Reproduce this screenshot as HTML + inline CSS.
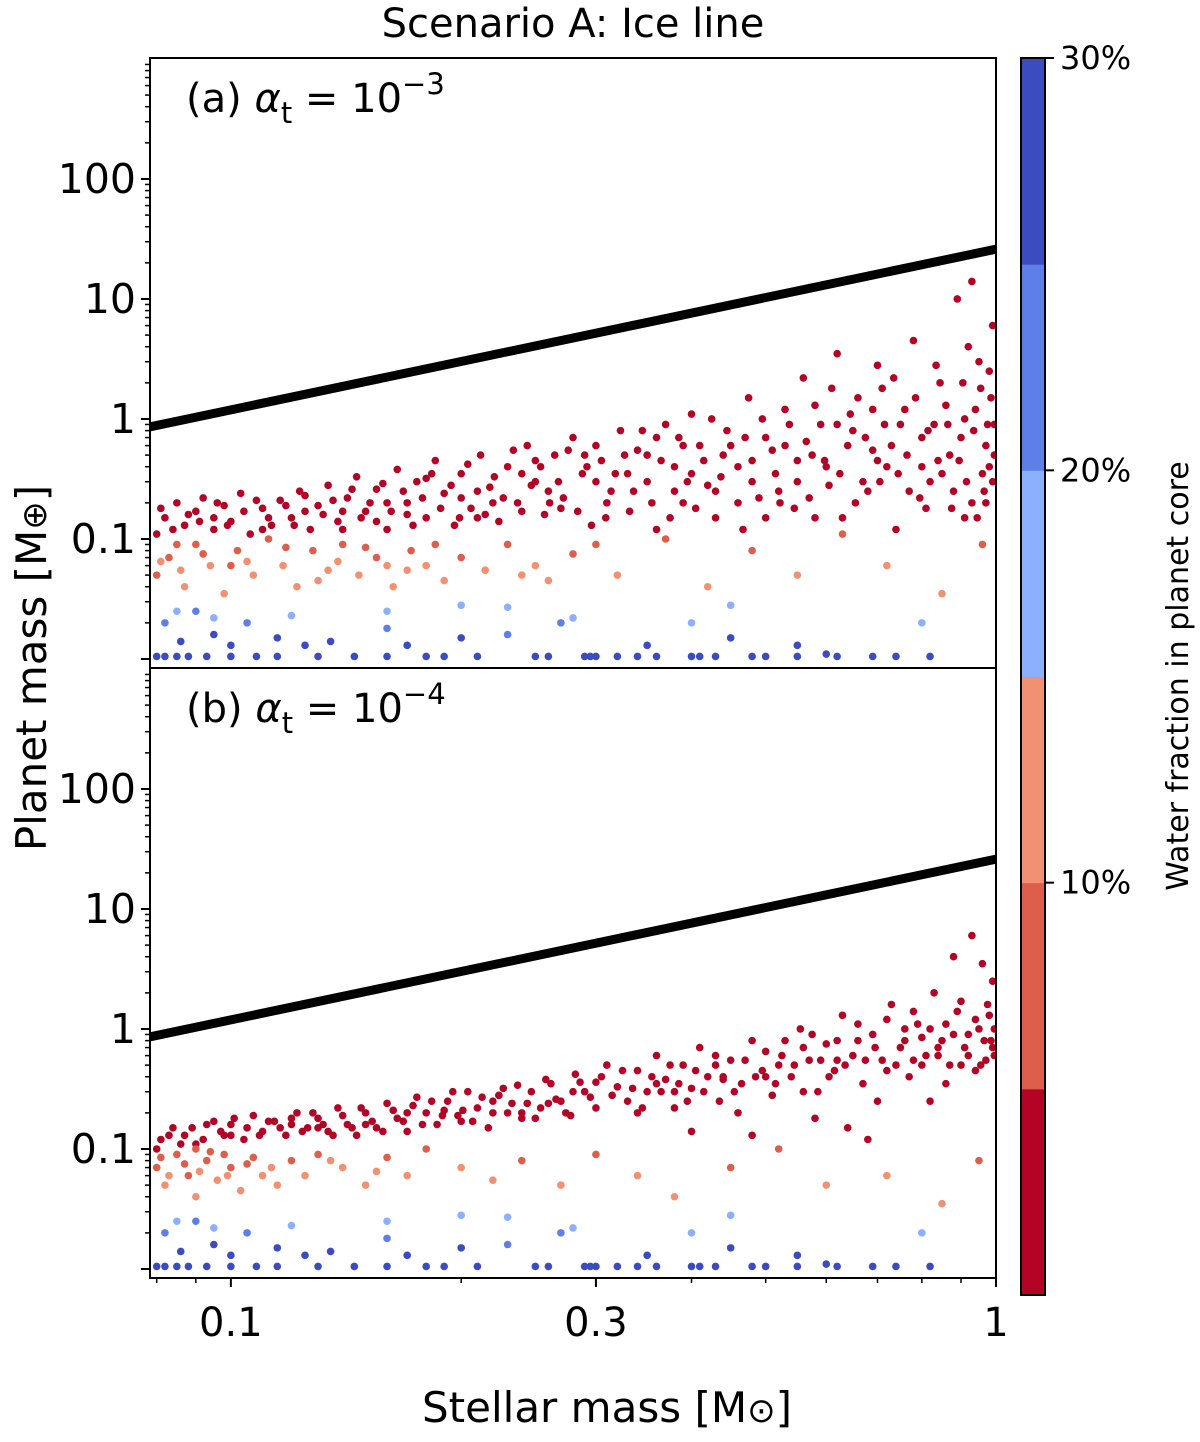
<!DOCTYPE html>
<html><head><meta charset="utf-8"><style>
body{margin:0;background:#fff;}
svg text{font-family:"DejaVu Sans","Liberation Sans",sans-serif;fill:#000;}
</style></head><body>
<svg id="chart" width="1200" height="1437" viewBox="0 0 1200 1437" xmlns="http://www.w3.org/2000/svg">
<text x="573" y="37" font-size="40" text-anchor="middle">Scenario A:  Ice line</text>
<g id="plots"></g>
<text x="607" y="1422" font-size="42" text-anchor="middle">Stellar mass [M<tspan font-size="34">⊙</tspan>]</text>
<text transform="translate(46,668) rotate(-90)" font-size="42" text-anchor="middle">Planet mass [M<tspan font-size="34">⊕</tspan>]</text>
<g id="cbar"></g>
<text transform="translate(1188,676) rotate(-90)" font-size="30" text-anchor="middle">Water fraction in planet core</text>
</svg>
<script>
const xTicks=[0.1,0.3,1];
const xTickLabels=["0.1","0.3","1"];
const yTicks=[0.1,1,10,100];
const yTickLabels=["0.1","1","10","100"];
const cbarTicks=[10,20,30];
const cbarLabels=["10%","20%","30%"];
const cbarColors=["#b40426","#dd5f4b","#f29072","#8caffe","#5f7fe8","#3b4cc0"];
const lineMass=[0.0784,1];
const linePlanet=[0.86,26];
const redA=[[0.08,0.11],[0.082,0.15],[0.085,0.2],[0.087,0.13],[0.09,0.17],[0.092,0.22],[0.095,0.12],[0.098,0.19],[0.1,0.14],[0.103,0.24],[0.106,0.11],[0.11,0.18],[0.113,0.13],[0.116,0.21],[0.12,0.15],[0.123,0.25],[0.127,0.12],[0.13,0.19],[0.134,0.28],[0.138,0.14],[0.142,0.22],[0.146,0.33],[0.15,0.17],[0.155,0.26],[0.16,0.12],[0.165,0.38],[0.17,0.2],[0.175,0.3],[0.18,0.15],[0.185,0.45],[0.19,0.24],[0.196,0.13],[0.2,0.35],[0.206,0.18],[0.212,0.5],[0.218,0.27],[0.224,0.14],[0.23,0.4],[0.237,0.2],[0.244,0.6],[0.25,0.3],[0.257,0.16],[0.265,0.5],[0.272,0.22],[0.28,0.7],[0.288,0.35],[0.296,0.13],[0.305,0.45],[0.314,0.25],[0.323,0.8],[0.332,0.17],[0.34,0.55],[0.35,0.3],[0.36,0.12],[0.37,0.9],[0.38,0.4],[0.39,0.2],[0.4,1.1],[0.41,0.6],[0.42,0.28],[0.43,0.15],[0.445,0.8],[0.46,0.4],[0.475,1.5],[0.49,0.22],[0.5,0.7],[0.515,0.35],[0.53,1.2],[0.545,0.18],[0.56,2.2],[0.575,0.5],[0.59,0.9],[0.605,0.28],[0.62,3.5],[0.64,0.6],[0.66,1.5],[0.68,0.25],[0.7,2.8],[0.72,0.4],[0.74,0.12],[0.76,1.2],[0.78,4.5],[0.8,0.7],[0.82,0.3],[0.845,2.0],[0.87,0.5],[0.89,10],[0.91,1.0],[0.93,0.2],[0.95,3],[0.97,0.6],[0.99,6],[0.985,1.5],[0.96,0.35],[0.92,4],[0.86,1.3],[0.81,0.18],[0.75,0.9],[0.69,0.55],[0.63,0.15],[0.55,0.45],[0.48,0.3],[0.44,0.5],[0.36,0.7],[0.33,0.35],[0.26,0.25],[0.22,0.2],[0.18,0.32],[0.14,0.17],[0.11,0.12],[0.71,1.8],[0.83,0.9],[0.93,14],[0.65,0.8],[0.58,1.3],[0.52,0.25],[0.47,0.7],[0.4,0.35],[0.29,0.5],[0.24,0.35],[0.155,0.14],[0.17,0.16],[0.21,0.15],[0.27,0.18],[0.31,0.2],[0.35,0.5],[0.39,0.6],[0.43,0.25],[0.5,0.15],[0.53,0.6],[0.6,0.4],[0.67,0.3],[0.73,0.6],[0.77,0.25],[0.84,0.45],[0.88,0.25],[0.9,0.7],[0.94,1.2],[0.98,0.4],[0.995,0.9],[0.62,0.9],[0.57,0.22],[0.46,0.2],[0.38,0.25],[0.3,0.3],[0.25,0.45],[0.2,0.22],[0.16,0.2],[0.125,0.17],[0.095,0.15]];
const redA2=[[0.081,0.18],[0.084,0.12],[0.088,0.16],[0.091,0.14],[0.096,0.2],[0.099,0.13],[0.104,0.17],[0.108,0.21],[0.112,0.15],[0.118,0.19],[0.121,0.13],[0.125,0.23],[0.132,0.16],[0.136,0.21],[0.14,0.12],[0.144,0.26],[0.148,0.15],[0.152,0.2],[0.158,0.29],[0.162,0.17],[0.168,0.25],[0.173,0.13],[0.178,0.22],[0.183,0.35],[0.188,0.18],[0.194,0.28],[0.199,0.15],[0.204,0.42],[0.21,0.25],[0.215,0.16],[0.221,0.33],[0.227,0.22],[0.234,0.55],[0.24,0.17],[0.247,0.28],[0.254,0.4],[0.261,0.2],[0.268,0.3],[0.276,0.55],[0.284,0.17],[0.292,0.4],[0.3,0.6],[0.309,0.15],[0.318,0.35],[0.327,0.5],[0.336,0.25],[0.345,0.8],[0.355,0.2],[0.365,0.45],[0.375,0.15],[0.385,0.7],[0.395,0.3],[0.405,0.18],[0.415,0.45],[0.425,1.0],[0.437,0.33],[0.45,0.6],[0.467,0.12],[0.48,0.45],[0.495,1.0],[0.51,0.55],[0.522,0.2],[0.537,0.9],[0.55,0.3],[0.565,0.65],[0.58,0.15],[0.597,0.45],[0.61,1.8],[0.625,0.35],[0.645,1.1],[0.655,0.2],[0.675,0.7],[0.69,1.2],[0.705,0.3],[0.715,0.9],[0.735,2.2],[0.745,0.35],[0.765,0.5],[0.785,1.5],[0.795,0.22],[0.815,0.8],[0.835,2.8],[0.85,0.35],[0.865,0.9],[0.875,0.18],[0.895,0.45],[0.905,2.0],[0.915,0.3],[0.935,0.8],[0.945,0.15],[0.955,1.8],[0.965,0.25],[0.975,0.9],[0.98,2.5],[0.99,0.3],[0.995,0.5],[0.97,0.2],[0.91,0.15],[0.8,0.4],[0.7,0.45]];
const orangeA=[[0.08,0.05,1],[0.083,0.07,1],[0.087,0.04,2],[0.09,0.09,1],[0.094,0.06,2],[0.098,0.035,2],[0.102,0.08,1],[0.107,0.05,2],[0.112,0.1,1],[0.117,0.06,2],[0.122,0.04,2],[0.128,0.08,1],[0.134,0.055,2],[0.14,0.09,1],[0.147,0.05,2],[0.155,0.07,1],[0.163,0.04,2],[0.172,0.08,1],[0.18,0.06,2],[0.19,0.045,2],[0.2,0.07,1],[0.215,0.055,2],[0.23,0.09,1],[0.25,0.06,2],[0.28,0.075,1],[0.32,0.05,2],[0.37,0.1,1],[0.42,0.04,2],[0.48,0.08,1],[0.55,0.05,2],[0.63,0.11,1],[0.72,0.06,2],[0.85,0.035,2],[0.96,0.09,1],[0.085,0.09,1],[0.1,0.06,1],[0.13,0.045,2],[0.15,0.085,1],[0.17,0.055,2],[0.26,0.045,2],[0.3,0.09,1],[0.081,0.065,2],[0.086,0.055,2],[0.092,0.075,1],[0.105,0.065,2],[0.118,0.085,1],[0.138,0.065,2],[0.16,0.06,2],[0.185,0.09,1],[0.24,0.05,2]];
const blueA=[[0.08,0.0105,5],[0.082,0.0105,5],[0.085,0.0105,5],[0.088,0.0105,5],[0.093,0.0105,5],[0.1,0.0105,5],[0.108,0.0105,5],[0.115,0.0105,5],[0.13,0.0105,5],[0.145,0.0105,5],[0.16,0.0105,5],[0.18,0.0105,5],[0.19,0.0105,5],[0.21,0.0105,5],[0.25,0.0105,5],[0.26,0.0105,5],[0.29,0.0105,5],[0.295,0.0105,5],[0.3,0.0105,5],[0.32,0.0105,5],[0.34,0.0105,5],[0.36,0.0105,5],[0.4,0.0105,5],[0.41,0.0105,5],[0.43,0.0105,5],[0.48,0.0105,5],[0.5,0.0105,5],[0.55,0.0105,5],[0.62,0.0105,5],[0.69,0.0105,5],[0.74,0.0105,5],[0.82,0.0105,5],[0.082,0.02,4],[0.086,0.014,5],[0.09,0.025,4],[0.095,0.016,5],[0.1,0.013,5],[0.105,0.02,4],[0.115,0.015,5],[0.125,0.013,5],[0.135,0.014,5],[0.16,0.018,4],[0.17,0.013,5],[0.2,0.015,5],[0.23,0.016,4],[0.27,0.02,4],[0.35,0.013,5],[0.45,0.015,5],[0.55,0.013,5],[0.6,0.011,5],[0.085,0.025,3],[0.095,0.022,3],[0.12,0.023,3],[0.16,0.025,3],[0.2,0.028,3],[0.23,0.027,3],[0.28,0.022,3],[0.4,0.02,3],[0.45,0.028,3],[0.8,0.02,3]];
const redB=[[0.08,0.1],[0.083,0.13],[0.086,0.11],[0.089,0.15],[0.092,0.12],[0.095,0.17],[0.098,0.13],[0.1,0.16],[0.104,0.12],[0.107,0.19],[0.11,0.14],[0.114,0.17],[0.118,0.13],[0.122,0.2],[0.126,0.15],[0.13,0.18],[0.134,0.14],[0.138,0.22],[0.142,0.16],[0.146,0.13],[0.15,0.2],[0.155,0.15],[0.16,0.24],[0.165,0.18],[0.17,0.14],[0.175,0.27],[0.18,0.2],[0.186,0.16],[0.192,0.25],[0.198,0.19],[0.204,0.3],[0.21,0.22],[0.217,0.15],[0.224,0.28],[0.23,0.2],[0.237,0.34],[0.244,0.24],[0.25,0.18],[0.258,0.38],[0.266,0.26],[0.274,0.2],[0.282,0.42],[0.29,0.3],[0.3,0.22],[0.31,0.5],[0.32,0.33],[0.33,0.25],[0.34,0.45],[0.35,0.3],[0.36,0.6],[0.37,0.38],[0.38,0.22],[0.39,0.5],[0.4,0.32],[0.41,0.7],[0.42,0.4],[0.435,0.25],[0.45,0.55],[0.465,0.35],[0.48,0.8],[0.495,0.45],[0.51,0.28],[0.525,0.6],[0.54,0.4],[0.555,1.0],[0.57,0.55],[0.585,0.3],[0.6,0.75],[0.615,0.45],[0.63,1.3],[0.65,0.6],[0.67,0.35],[0.69,0.9],[0.71,0.55],[0.73,1.6],[0.75,0.7],[0.77,0.4],[0.79,1.1],[0.81,0.6],[0.83,2.0],[0.85,0.8],[0.87,0.5],[0.89,1.4],[0.91,0.7],[0.93,6],[0.95,1.0],[0.97,0.55],[0.99,2.5],[0.985,0.8],[0.96,3.5],[0.94,0.45],[0.88,4],[0.82,0.25],[0.76,1.0],[0.7,0.25],[0.64,0.15],[0.58,0.18],[0.52,0.5],[0.46,0.2],[0.44,0.38],[0.38,0.3],[0.34,0.2],[0.28,0.3],[0.24,0.2],[0.2,0.17],[0.17,0.2],[0.13,0.15],[0.1,0.13],[0.66,0.8],[0.72,0.45],[0.8,0.85],[0.86,1.1],[0.9,0.5],[0.98,1.3],[0.62,0.55],[0.56,0.7],[0.5,0.4],[0.43,0.5],[0.36,0.35],[0.3,0.36],[0.26,0.24],[0.22,0.25],[0.19,0.21],[0.15,0.16],[0.12,0.16],[0.68,0.12],[0.48,0.13],[0.4,0.14],[0.995,0.6],[0.92,0.9],[0.84,0.6],[0.78,0.55]];
const redB2=[[0.081,0.12],[0.084,0.15],[0.087,0.13],[0.09,0.11],[0.093,0.16],[0.097,0.14],[0.101,0.18],[0.105,0.15],[0.109,0.13],[0.112,0.17],[0.116,0.15],[0.12,0.18],[0.124,0.14],[0.128,0.2],[0.132,0.16],[0.136,0.13],[0.14,0.19],[0.144,0.15],[0.148,0.22],[0.153,0.17],[0.158,0.14],[0.163,0.21],[0.168,0.17],[0.173,0.23],[0.178,0.16],[0.183,0.25],[0.189,0.19],[0.195,0.3],[0.201,0.21],[0.207,0.17],[0.213,0.27],[0.22,0.2],[0.227,0.32],[0.233,0.24],[0.24,0.18],[0.247,0.3],[0.254,0.22],[0.262,0.35],[0.27,0.25],[0.278,0.19],[0.286,0.36],[0.295,0.27],[0.305,0.4],[0.315,0.28],[0.325,0.45],[0.335,0.32],[0.345,0.22],[0.355,0.4],[0.365,0.3],[0.375,0.5],[0.385,0.35],[0.395,0.25],[0.405,0.45],[0.415,0.3],[0.43,0.6],[0.44,0.4],[0.455,0.3],[0.47,0.55],[0.485,0.4],[0.5,0.65],[0.515,0.35],[0.53,0.8],[0.545,0.5],[0.56,0.3],[0.575,0.9],[0.59,0.55],[0.605,0.4],[0.62,0.8],[0.635,0.5],[0.66,1.1],[0.675,0.55],[0.695,0.7],[0.72,1.2],[0.74,0.5],[0.76,0.8],[0.78,1.4],[0.8,0.5],[0.82,1.0],[0.84,0.7],[0.86,0.35],[0.88,0.9],[0.9,1.7],[0.92,0.6],[0.94,1.2],[0.955,0.5],[0.965,0.8],[0.975,1.6],[0.99,0.7],[0.995,1.0]];
const orangeB=[[0.08,0.07,1],[0.082,0.05,2],[0.085,0.09,1],[0.088,0.06,1],[0.09,0.04,2],[0.093,0.08,1],[0.096,0.055,2],[0.1,0.07,1],[0.103,0.045,2],[0.107,0.085,1],[0.11,0.06,2],[0.115,0.05,2],[0.12,0.08,1],[0.125,0.06,2],[0.13,0.09,1],[0.14,0.07,2],[0.15,0.05,2],[0.16,0.085,1],[0.17,0.06,2],[0.18,0.1,1],[0.2,0.07,2],[0.22,0.055,2],[0.24,0.08,1],[0.27,0.05,2],[0.3,0.09,1],[0.34,0.06,2],[0.38,0.04,2],[0.45,0.07,1],[0.52,0.1,1],[0.6,0.05,2],[0.72,0.06,2],[0.85,0.035,2],[0.95,0.08,1],[0.098,0.09,1],[0.09,0.1,1],[0.081,0.085,1],[0.083,0.06,2],[0.087,0.075,1],[0.091,0.065,2],[0.094,0.095,1],[0.099,0.06,2],[0.105,0.075,1],[0.113,0.07,2],[0.135,0.08,2],[0.155,0.065,2]];
const blueB=blueA.map(p=>[p[0],p[1],p[2]]);
const panels=[{name:"panel-a",top:58,red:redA.concat(redA2),orange:orangeA,blue:blueA,label:"(a)",exp:"−3"},{name:"panel-b",top:668,red:redB.concat(redB2),orange:orangeB,blue:blueB,label:"(b)",exp:"−4"}];

const NS="http://www.w3.org/2000/svg";
const L=150,R=996,H=610;
const xMin=Math.log10(0.0784),xMax=0;
const yMin=-2.075,yMax=3.008;
function xs(v){return L+(Math.log10(v)-xMin)/(xMax-xMin)*(R-L);}
function ys(v,top){return top+H-(Math.log10(v)-yMin)/(yMax-yMin)*H;}
function mk(tag,attrs,parent){const e=document.createElementNS(NS,tag);for(const k in attrs)e.setAttribute(k,attrs[k]);parent.appendChild(e);return e;}
const plots=document.getElementById('plots');
panels.forEach((p,pi)=>{
  const g=mk('g',{},plots);
  
  
  const clip=mk('clipPath',{id:'c'+pi},g);
  mk('rect',{x:L,y:p.top,width:R-L,height:H},clip);
  const dots=mk('g',{'clip-path':'url(#c'+pi+')'},g);
  
  
  const all=p.red.map(d=>[d[0],d[1],0]).concat(p.orange,p.blue);
  all.forEach(d=>{
    const c=mk('circle',{cx:xs(d[0]),cy:ys(d[1],p.top),r:3.8,fill:cbarColors[d[2]]},dots);
    
    
  });
  const ln=mk('line',{x1:xs(lineMass[0]),y1:ys(linePlanet[0],p.top),x2:xs(lineMass[1]),y2:ys(linePlanet[1],p.top),stroke:'#000','stroke-width':9,'clip-path':'url(#c'+pi+')'},g);
  
  
  const fr=mk('rect',{x:L,y:p.top,width:R-L,height:H,fill:'none',stroke:'#000','stroke-width':2},g);
  
  
  for(let e=-2;e<=2;e++){for(let m=1;m<10;m++){const v=m*Math.pow(10,e);const y=ys(v,p.top);if(y<p.top||y>p.top+H)continue;
    mk('line',{x1:L,x2:L-(m===1?9:5),y1:y,y2:y,stroke:'#000','stroke-width':m===1?2:1.5},g);}}
  yTicks.forEach((v,i)=>{const t=mk('text',{x:L-14,y:ys(v,p.top)+14,'font-size':41,'text-anchor':'end'},g);t.textContent=yTickLabels[i];
    });
  const lb=mk('text',{x:186,y:p.top+54,'font-size':40},g);
  
  
  lb.innerHTML=p.label+' <tspan font-style="italic">α</tspan><tspan font-size="29" dy="11">t</tspan><tspan dy="-11"> = 10</tspan><tspan font-size="29" dy="-18">'+p.exp+'</tspan>';
});
const bot=668+H;
const xt=mk('g',{},plots);


[0.08,0.09,0.2,0.4,0.5,0.6,0.7,0.8,0.9].forEach(v=>mk('line',{x1:xs(v),x2:xs(v),y1:bot,y2:bot+5,stroke:'#000','stroke-width':1.5},xt));
xTicks.forEach((v,i)=>{mk('line',{x1:xs(v),x2:xs(v),y1:bot,y2:bot+9,stroke:'#000','stroke-width':2},xt);
  const t=mk('text',{x:xs(v),y:bot+58,'font-size':40,'text-anchor':'middle'},xt);t.textContent=xTickLabels[i];
  });
const cb=document.getElementById('cbar');
const cT=58,cB=1295,cL=1021,cW=24;
function cy(v){return cB-(v/30)*(cB-cT);}
cbarColors.forEach((c,i)=>{const r=mk('rect',{x:cL,y:cy((i+1)*5),width:cW,height:cy(i*5)-cy((i+1)*5)+0.5,fill:c},cb);
  });
mk('rect',{x:cL,y:cT,width:cW,height:cB-cT,fill:'none',stroke:'#000','stroke-width':2},cb);
cbarTicks.forEach((v,i)=>{mk('line',{x1:cL+cW,x2:cL+cW+9,y1:cy(v),y2:cy(v),stroke:'#000','stroke-width':2},cb);
  const t=mk('text',{x:cL+cW+15,y:cy(v)+11,'font-size':32},cb);t.textContent=cbarLabels[i];
  });
</script>
</body></html>
